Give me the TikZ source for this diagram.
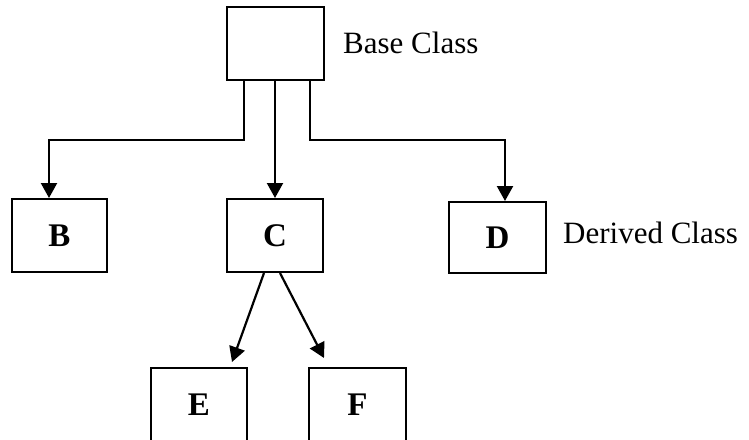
\documentclass[tikz,border=0pt]{standalone}
\usepackage{fontspec}
\setmainfont{Liberation Serif}
\usetikzlibrary{arrows.meta}
\begin{document}
\begin{tikzpicture}[x=1pt,y=-1pt,
  box/.style={draw,line width=2pt,minimum width=96pt,minimum height=73pt,inner sep=0pt,font=\fontsize{33}{38}\selectfont\bfseries},
  conn/.style={line width=2.2pt},
  arr/.style={conn,-{Triangle[width=16pt,length=15pt]}},
  lbl/.style={anchor=base west,inner sep=0pt,font=\fontsize{31}{36}\selectfont}]
\useasboundingbox (0,0) rectangle (749,439);
\node[box,minimum width=97pt] (base) at (275.5,43.5) {};
\node[box,minimum width=95pt] (B) at (59.5,235.5) {B};
\node[box] (C) at (275,235.5) {C};
\node[box,minimum width=97pt,minimum height=71pt] (D) at (497.5,237.5) {D};
\node[box] (E) at (199,404.5) {E};
\node[box,minimum width=97pt] (F) at (357.5,404.5) {F};
\node[lbl] (lb) at (343,53) {Base Class};
\node[lbl] (ld) at (563,243) {Derived Class};
\coordinate (kl) at (244,140);
\coordinate (kb) at (49,140);
\coordinate (kr) at (310,140);
\coordinate (kd) at (505,140);
\coordinate (te) at (232,362);
\coordinate (tf) at (324,358);
\draw[arr] (base.south -| kl) -- (kl) -- (kb) -- (kb |- B.north);
\draw[arr] (base.south -| C.north) -- (C.north);
\draw[arr] (base.south -| kr) -- (kr) -- (kd) -- (kd |- D.north);
\draw[arr] ([xshift=-11pt]C.south) -- (te);
\draw[arr] ([xshift=5pt]C.south) -- (tf);
\end{tikzpicture}
\end{document}
